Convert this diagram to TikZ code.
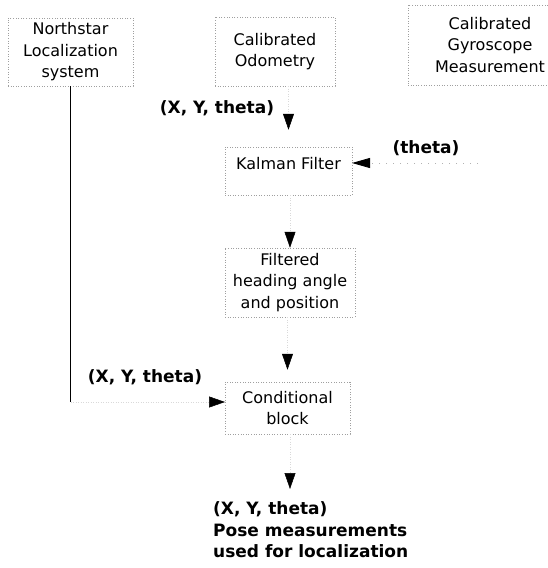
\documentclass[tikz,border=0pt]{standalone}
\usepackage{fontspec}
\setmainfont{DejaVu Sans}
\usetikzlibrary{arrows.meta}
\tikzset{
  box/.style={draw=gray!75, dash pattern=on 1pt off 1.6pt, line width=0.5pt, inner sep=0pt, align=center, font=\fontsize{16}{21.5}\selectfont},
  lbl/.style={font=\fontsize{17}{21.5}\selectfont\bfseries, inner sep=0pt},
  flow/.style={draw=gray!30, dotted, line width=0.5pt, -{Triangle[length=16pt,width=11pt,black]}},
  sideflow/.style={draw=gray!60, dash pattern=on 1pt off 6pt, line width=0.8pt, -{Triangle[length=18pt,width=10pt,black]}},
  nsline/.style={draw=black, line width=1.1pt}
}
\begin{document}
\begin{tikzpicture}[x=1pt,y=-1pt]
\useasboundingbox (0,0) rectangle (548,568);
\node[box, minimum width=125pt, minimum height=68pt] (ns) at (70.5,52) {Northstar\\Localization\\system};
\node[box, minimum width=120pt, minimum height=69pt] (odo) at (275,51.5) {Calibrated\\Odometry};
\node[box, minimum width=164pt, minimum height=80pt] (gyro) at (490,45) {Calibrated\\Gyroscope\\Measurement};
\node[box, minimum width=127pt, text height=22pt, text depth=26pt] (kal) at (288.5,171) {Kalman Filter};
\node[box, minimum width=130pt, minimum height=69pt] (filt) at (290,282.5) {Filtered\\heading angle\\and position};
\node[box, minimum width=125pt, minimum height=52pt] (cond) at (287.5,408) {Conditional\\block};
\node[lbl, align=left, anchor=west] (out) at (213,530) {(X, Y, theta)\\Pose measurements\\used for localization};
\node[lbl] (l1) at (217,108) {(X, Y, theta)};
\node[lbl] (l2) at (426,148) {(theta)};
\node[lbl] (l3) at (145,377) {(X, Y, theta)};
\coordinate (kin) at (352,163);
\coordinate (gstart) at (478,163);
\coordinate (cin) at (225,402);
\coordinate (oin) at (290,489);
\draw[flow, shorten >=17pt] (odo.south -| kal.north) -- (kal.north);
\draw[sideflow] (gstart) -- (kin);
\draw[flow] (kal.south -| filt.north) -- (filt.north);
\draw[flow, shorten >=12pt] (filt.south -| cond.north) -- (cond.north);
\draw[flow] (cond.south -| oin) -- (oin);
\draw[nsline] (ns.south) -- (ns.south |- cin);
\draw[flow] (ns.south |- cin) -- (cin);
\end{tikzpicture}
\end{document}
